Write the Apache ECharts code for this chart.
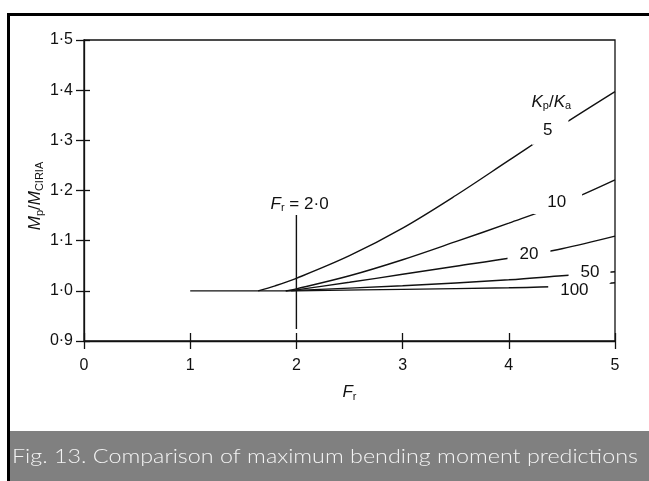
<!DOCTYPE html>
<html><head><meta charset="utf-8">
<script src="https://cdn.jsdelivr.net/npm/echarts@6/dist/echarts.min.js"></script>
<style>html,body{margin:0;padding:0;background:#fff;}#c{width:649px;height:481px;}</style>
</head><body><div id="c"></div>
<script>
// ---- data ----
const xTickLabels = ['0', '1', '2', '3', '4', '5'];
const yTickLabels = ['0·9', '1·0', '1·1', '1·2', '1·3', '1·4', '1·5'];
const curveNames = ['5', '10', '20', '50', '100'];
const baseLine = [[1,1.0],[2,1.0]];
const curve5   = [[1.64,1.0],[1.8,1.01],[2,1.025],[2.5,1.07],[3,1.125],[3.5,1.19],[4,1.26],[4.5,1.33],[5,1.397]];
const curve10  = [[1.9,1.0],[2,1.004],[2.5,1.03],[3,1.062],[3.5,1.098],[4,1.135],[4.5,1.174],[5,1.221]];
const curve20  = [[1.9,1.0],[2,1.002],[2.5,1.017],[3,1.033],[3.5,1.049],[4,1.065],[4.5,1.084],[5,1.109]];
const curve50  = [[1.95,1.0],[2,1.001],[3,1.01],[4,1.022],[4.5,1.03],[5,1.038]];
const curve100 = [[2,1.0],[3,1.003],[4,1.006],[4.5,1.009],[5,1.016]];
const refLineFr = [[2,0.924],[2,1.151]];
const captionText = 'Fig. 13. Comparison of maximum bending moment predictions';

const FONT = '"Liberation Sans", Arial, Helvetica, sans-serif';
const chart = echarts.init(document.getElementById('c'), null, {renderer: 'canvas'});

const curves = [curve5, curve10, curve20, curve50, curve100];
const lineSeries = curves.map((d, i) => ({
  type: 'line', name: curveNames[i], data: d, showSymbol: false,
  smooth: 0.35,
  lineStyle: {color: '#111', width: 1.4}, z: 2, silent: true
}));

const labelCfg = [
  {pos: [4.39, 1.319], pad: [7, 16, 4, 11]},
  {pos: [4.46, 1.176], pad: [2, 16, 4, 14]},
  {pos: [4.19, 1.073], pad: [4, 12, 1, 12]},
  {pos: [4.76, 1.036], pad: [2, 11, 2, 12]},
  {pos: [4.66, 1.002], pad: [0, 21, 2, 12]}
];
const labelData = curveNames.map((n, i) => ({
  value: labelCfg[i].pos,
  label: {formatter: n, padding: labelCfg[i].pad}
}));

const richSub = {
  i: {fontFamily: FONT, fontStyle: 'italic', fontSize: 17, color: '#111', lineHeight: 18, padding: [0,0,2,0], verticalAlign: 'top'},
  n: {fontFamily: FONT, fontSize: 17, color: '#111', lineHeight: 18, padding: [0,0,2,0], verticalAlign: 'top'},
  s: {fontFamily: FONT, fontSize: 11, color: '#111', lineHeight: 11, verticalAlign: 'bottom'}
};

// caption stretch to the reference's width
const capFont = '300 20px Lato, "Open Sans", sans-serif';
const mctx = document.createElement('canvas').getContext('2d');
mctx.font = capFont;
const capScale = 626 / mctx.measureText(captionText).width;

const labelSeriesBase = {
  type: 'scatter', symbol: 'circle', symbolSize: 1, z: 5, silent: true,
  itemStyle: {color: 'rgba(0,0,0,0)', opacity: 1},
  emphasis: {disabled: true}
};

chart.setOption({
  animation: false,
  backgroundColor: '#fff',
  grid: {left: 84, right: 34, top: 40, bottom: 140, show: true, borderColor: '#111', borderWidth: 1.3},
  xAxis: [{
    type: 'value', min: 0, max: 5, interval: 1,
    axisLine: {show: true, lineStyle: {color: '#111', width: 1.3}},
    axisTick: {show: true, inside: true, length: 8, lineStyle: {color: '#111', width: 1.3}},
    axisLabel: {fontFamily: FONT, fontSize: 16, color: '#111', margin: 17,
      formatter: v => xTickLabels[Math.round(v)]},
    splitLine: {show: false},
    name: '{i|F}{s|r}', nameLocation: 'middle', nameGap: 43, nameMoveOverlap: false,
    nameTextStyle: {rich: richSub}
  }, {
    type: 'value', min: 0, max: 5, interval: 1, position: 'bottom', offset: 0,
    axisLine: {show: false}, axisLabel: {show: false}, splitLine: {show: false},
    axisTick: {show: true, inside: false, length: 8, lineStyle: {color: '#111', width: 1.3}}
  }],
  yAxis: [{
    type: 'value', min: 0.9, max: 1.5, interval: 0.1,
    axisLine: {show: true, lineStyle: {color: '#111', width: 1.3}},
    axisTick: {show: true, inside: false, length: 8, lineStyle: {color: '#111', width: 1.3}},
    axisLabel: {fontFamily: FONT, fontSize: 16, color: '#111', margin: 11,
      formatter: v => yTickLabels[Math.round((v - 0.9) * 10)]},
    splitLine: {show: false},
    name: '{i|M}{s|p}{n|/}{i|M}{s|CIRIA}', nameLocation: 'middle', nameGap: 39, nameRotate: 90,
    nameMoveOverlap: false,
    nameTextStyle: {rich: richSub, padding: [0, 11, 0, 0]}
  }, {
    type: 'value', min: 0.9, max: 1.5, interval: 0.1, position: 'left', offset: 0,
    axisLine: {show: false}, axisLabel: {show: false}, splitLine: {show: false},
    axisTick: {show: true, inside: true, length: 6, lineStyle: {color: '#111', width: 1.3}}
  }],
  series: [
    {type: 'line', data: baseLine, showSymbol: false, lineStyle: {color: '#111', width: 1.4}, z: 2, silent: true},
    ...lineSeries,
    {type: 'line', data: refLineFr, showSymbol: false, lineStyle: {color: '#111', width: 1.4}, z: 2, silent: true},
    Object.assign({}, labelSeriesBase, {
      data: labelData,
      label: {show: true, position: 'inside', fontFamily: FONT, fontSize: 17, color: '#111',
        backgroundColor: '#fff', textBorderWidth: 0, opacity: 1}
    }),
    Object.assign({}, labelSeriesBase, {
      data: [
        {value: [4.4, 1.375], label: {formatter: '{i|K}{s|p}{n|/}{i|K}{s|a}'}},
        {value: [2.03, 1.172], label: {formatter: '{i|F}{s|r}{n| = 2·0}'}}
      ],
      label: {show: true, position: 'inside', rich: richSub, textBorderWidth: 0, opacity: 1}
    })
  ],
  graphic: [
    {type: 'rect', shape: {x: 7, y: 13, width: 642, height: 3}, style: {fill: '#000'}},
    {type: 'rect', shape: {x: 7, y: 13, width: 3, height: 468}, style: {fill: '#000'}},
    {type: 'rect', shape: {x: 10, y: 431, width: 639, height: 50}, style: {fill: '#808080'}},
    {type: 'text', x: 12, y: 457, scaleX: capScale, originX: 0,
      style: {text: captionText, fill: '#f4f4f4', font: capFont, verticalAlign: 'middle'}}
  ]
});
</script></body></html>
